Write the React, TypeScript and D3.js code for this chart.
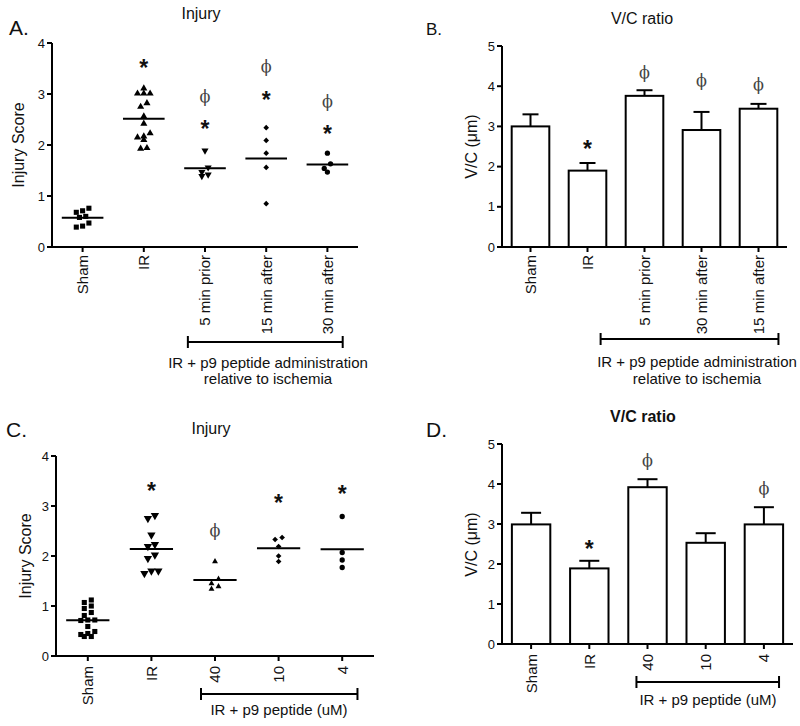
import React from "react";
import * as d3 from "d3";

const SANS = "'Liberation Sans', Arial, Helvetica, sans-serif";
const SERIF = "'DejaVu Serif', 'Liberation Serif', 'Times New Roman', serif";

// ---------- Panel A : Injury (scatter) ----------
const catsA = ["Sham", "IR", "5 min prior", "15 min after", "30 min after"];
const injA_sham = [0.76, 0.71, 0.68, 0.6, 0.58, 0.47, 0.41, 0.39];
const injA_ir = [3.11, 3.01, 3.01, 3.01, 2.82, 2.75, 2.56, 2.42, 2.23, 2.17, 2.15, 2.1, 1.94, 1.93];
const injA_5prior = [1.89, 1.56, 1.47, 1.42, 1.39];
const injA_15after = [2.34, 2.09, 1.84, 1.56, 0.85];
const injA_30after = [1.84, 1.63, 1.54, 1.47];
const starsA = [null, 3.63, 2.42, 3.0, 2.33];
const phisA = [null, null, 2.96, 3.54, 2.86];
const shapesA = ["square", "triangle", "triangleDown", "diamond", "circle"];

// ---------- Panel B : V/C ratio (bars) ----------
const catsB = ["Sham", "IR", "5 min prior", "30 min after", "15 min after"];
const vcB_mean = [3.0, 1.9, 3.76, 2.91, 3.44];
const vcB_sem = [0.3, 0.19, 0.14, 0.45, 0.12];
const starsB = [null, 2.59, null, null, null];
const phisB = [null, null, 4.35, 4.13, 4.05];

// ---------- Panel C : Injury (scatter, dose) ----------
const catsC = ["Sham", "IR", "40", "10", "4"];
const injC_sham = [1.12, 1.07, 1.0, 0.95, 0.87, 0.81, 0.72, 0.72, 0.71, 0.59, 0.49, 0.45, 0.43, 0.39, 0.39];
const injC_ir = [2.81, 2.75, 2.42, 2.23, 2.19, 2.02, 1.95, 1.7, 1.65, 1.7];
const injC_40 = [1.89, 1.54, 1.45, 1.39, 1.34];
const injC_10 = [2.37, 2.33, 2.19, 2.0, 1.89];
const injC_4 = [2.79, 2.07, 1.92, 1.77];
const starsC = [null, 3.42, null, 3.17, 3.36];
const phisC = [null, null, 2.52, null, null];
const shapesC = ["square", "triangleDown", "triangle", "diamond", "circle"];

// ---------- Panel D : V/C ratio (bars, dose) ----------
const catsD = ["Sham", "IR", "40", "10", "4"];
const vcD_mean = [2.99, 1.89, 3.92, 2.53, 2.99];
const vcD_sem = [0.29, 0.19, 0.2, 0.24, 0.43];
const starsD = [null, 2.53, null, null, null];
const phisD = [null, null, 4.58, null, 3.88];

const ticksInjury = [0, 1, 2, 3, 4];
const ticksVC = [0, 1, 2, 3, 4, 5];

// ---------- helpers ----------
function markerPath(shape: string, size: number) {
  const type =
    shape === "square" || shape === "diamond"
      ? d3.symbolSquare
      : shape === "circle"
      ? d3.symbolCircle
      : d3.symbolTriangle;
  return d3.symbol(type, size)() as string;
}
function markerRotate(shape: string) {
  if (shape === "triangleDown") return 180;
  if (shape === "diamond") return 45;
  return 0;
}

// GraphPad-like column scatter: points within a few px of each other share a row
function swarm(values: number[], y: (v: number) => number, spacing: number, thresh: number) {
  const sorted = [...values].sort((a, b) => b - a);
  const rows: number[][] = [];
  for (const v of sorted) {
    const last = rows[rows.length - 1];
    if (last && Math.abs(y(last[0]) - y(v)) < thresh) last.push(v);
    else rows.push([v]);
  }
  const out: { v: number; dx: number }[] = [];
  rows.forEach((row) => {
    const r = [...row].sort((a, b) => a - b);
    r.forEach((v, i) => out.push({ v, dx: (i - (r.length - 1) / 2) * spacing }));
  });
  return out;
}

function Star({ x, y }: { x: number; y: number }) {
  const fs = 23;
  return (
    <text x={x} y={y + 0.6 * fs} fontFamily={SANS} fontSize={fs} fontWeight="bold" textAnchor="middle" fill="#111">
      *
    </text>
  );
}
function Phi({ x, y }: { x: number; y: number }) {
  return (
    <text x={x} y={y} fontFamily={SERIF} fontSize={16} textAnchor="middle" dominantBaseline="central" fill="#444">
      ϕ
    </text>
  );
}

type Layout = {
  x0: number; x1: number; yBase: number; yTop: number; yMax: number;
  ticks: number[];
  title: string; titleX: number; titleY: number; titleBold?: boolean;
  letter: string; letterX: number; letterY: number; letterSize: number;
  yLabel: string; yLabelX: number; yLabelY: number;
  labelGap: number;
  bracket: { from: number; to: number; padL: number; padR: number; y: number; textX: number; lines: string[]; lineY: number[] };
};

function Frame({ L, centers, cats }: { L: Layout; centers: number[]; cats: string[] }) {
  const y = d3.scaleLinear().domain([0, L.yMax]).range([L.yBase, L.yTop]);
  const step = (L.x1 - L.x0) / cats.length;
  const bx0 = centers[L.bracket.from] + L.bracket.padL * step;
  const bx1 = centers[L.bracket.to] + L.bracket.padR * step;
  return (
    <g>
      <text x={L.letterX} y={L.letterY} fontFamily={SANS} fontSize={L.letterSize} fill="#111">{L.letter}</text>
      <text x={L.titleX} y={L.titleY} fontFamily={SANS} fontSize={16} fontWeight={L.titleBold ? "bold" : "normal"} textAnchor="middle" fill="#111">{L.title}</text>
      <text transform={`translate(${L.yLabelX},${L.yLabelY}) rotate(-90)`} fontFamily={SANS} fontSize={16} textAnchor="middle" fill="#111">{L.yLabel}</text>
      {/* axes */}
      <line x1={L.x0} x2={L.x0} y1={L.yBase} y2={y(L.yMax)} stroke="#000" strokeWidth={2} />
      <line x1={L.x0} x2={L.x1} y1={L.yBase} y2={L.yBase} stroke="#000" strokeWidth={2} />
      {L.ticks.map((t) => (
        <g key={t}>
          <line x1={L.x0 - 5} x2={L.x0} y1={y(t)} y2={y(t)} stroke="#000" strokeWidth={2} />
          <text x={L.x0 - 7} y={y(t)} dy="0.36em" fontFamily={SANS} fontSize={13} textAnchor="end" fill="#111">{t}</text>
        </g>
      ))}
      {cats.map((c, i) => (
        <g key={c}>
          <line x1={centers[i]} x2={centers[i]} y1={L.yBase} y2={L.yBase + 5} stroke="#000" strokeWidth={2} />
          <text transform={`translate(${centers[i]},${L.yBase + L.labelGap}) rotate(-90)`} dy="0.36em" fontFamily={SANS} fontSize={15} textAnchor="end" fill="#111">{c}</text>
        </g>
      ))}
      {/* bracket */}
      <line x1={bx0} x2={bx1} y1={L.bracket.y} y2={L.bracket.y} stroke="#000" strokeWidth={2} />
      <line x1={bx0} x2={bx0} y1={L.bracket.y - 6} y2={L.bracket.y + 6} stroke="#000" strokeWidth={2} />
      <line x1={bx1} x2={bx1} y1={L.bracket.y - 6} y2={L.bracket.y + 6} stroke="#000" strokeWidth={2} />
      {L.bracket.lines.map((s, i) => (
        <text key={s} x={L.bracket.textX} y={L.bracket.lineY[i]} fontFamily={SANS} fontSize={15} textAnchor="middle" fill="#111">{s}</text>
      ))}
    </g>
  );
}

function ScatterPanel({ L, cats, groups, shapes, sizes, stars, phis, spacing }: {
  L: Layout; cats: string[]; groups: number[][]; shapes: string[]; sizes: number[];
  stars: (number | null)[]; phis: (number | null)[]; spacing: number;
}) {
  const x = d3.scaleBand<string>().domain(cats).range([L.x0, L.x1]);
  const y = d3.scaleLinear().domain([0, L.yMax]).range([L.yBase, L.yTop]);
  const centers = cats.map((c) => (x(c) as number) + x.bandwidth() / 2);
  const half = x.step() * 0.34;
  return (
    <g>
      <Frame L={L} centers={centers} cats={cats} />
      {groups.map((vals, gi) => {
        const cx = centers[gi];
        const pts = swarm(vals, y, spacing, 5);
        const m = d3.mean(vals) as number;
        const path = markerPath(shapes[gi], sizes[gi]);
        const rot = markerRotate(shapes[gi]);
        return (
          <g key={gi}>
            {pts.map((p, k) => (
              <path key={k} d={path} transform={`translate(${cx + p.dx},${y(p.v)}) rotate(${rot})`} fill="#000" />
            ))}
            <line x1={cx - half} x2={cx + half} y1={y(m)} y2={y(m)} stroke="#000" strokeWidth={2} />
          </g>
        );
      })}
      {stars.map((s, i) => (s == null ? null : <Star key={"s" + i} x={centers[i]} y={y(s)} />))}
      {phis.map((s, i) => (s == null ? null : <Phi key={"p" + i} x={centers[i]} y={y(s)} />))}
    </g>
  );
}

function BarPanel({ L, cats, means, sems, stars, phis, cap }: {
  L: Layout; cats: string[]; means: number[]; sems: number[];
  stars: (number | null)[]; phis: (number | null)[]; cap: number;
}) {
  const x = d3.scaleBand<string>().domain(cats).range([L.x0, L.x1]).paddingInner(0.34).paddingOuter(0.17);
  const y = d3.scaleLinear().domain([0, L.yMax]).range([L.yBase, L.yTop]);
  const centers = cats.map((c) => (x(c) as number) + x.bandwidth() / 2);
  return (
    <g>
      {cats.map((c, i) => {
        const top = y(means[i]);
        const et = y(means[i] + sems[i]);
        return (
          <g key={c}>
            <line x1={centers[i]} x2={centers[i]} y1={top} y2={et} stroke="#000" strokeWidth={2} />
            <line x1={centers[i] - cap / 2} x2={centers[i] + cap / 2} y1={et} y2={et} stroke="#000" strokeWidth={2} />
            <rect x={x(c) as number} y={top} width={x.bandwidth()} height={L.yBase - top} fill="#fff" stroke="#000" strokeWidth={2} />
          </g>
        );
      })}
      <Frame L={L} centers={centers} cats={cats} />
      {stars.map((s, i) => (s == null ? null : <Star key={"s" + i} x={centers[i]} y={y(s)} />))}
      {phis.map((s, i) => (s == null ? null : <Phi key={"p" + i} x={centers[i]} y={y(s)} />))}
    </g>
  );
}

const layoutA: Layout = {
  x0: 52, x1: 358, yBase: 247, yTop: 43, yMax: 4, ticks: ticksInjury,
  title: "Injury", titleX: 201, titleY: 18.5,
  letter: "A.", letterX: 9, letterY: 35, letterSize: 21,
  yLabel: "Injury Score", yLabelX: 24, yLabelY: 145, labelGap: 8,
  bracket: { from: 2, to: 4, padL: -0.28, padR: 0.25, y: 342, textX: 268,
    lines: ["IR + p9 peptide administration", "relative to ischemia"], lineY: [368, 384] },
};
const layoutB: Layout = {
  x0: 502, x1: 787, yBase: 247, yTop: 46, yMax: 5, ticks: ticksVC,
  title: "V/C ratio", titleX: 642, titleY: 23.5,
  letter: "B.", letterX: 426, letterY: 35, letterSize: 17,
  yLabel: "V/C (μm)", yLabelX: 477, yLabelY: 146.5, labelGap: 8,
  bracket: { from: 2, to: 4, padL: -0.77, padR: 0.35, y: 339, textX: 697,
    lines: ["IR + p9 peptide administration", "relative to ischemia"], lineY: [367, 384] },
};
const layoutC: Layout = {
  x0: 56, x1: 374, yBase: 656, yTop: 456, yMax: 4, ticks: ticksInjury,
  title: "Injury", titleX: 211, titleY: 433.5,
  letter: "C.", letterX: 6, letterY: 437, letterSize: 21,
  yLabel: "Injury Score", yLabelX: 31, yLabelY: 556, labelGap: 10,
  bracket: { from: 2, to: 4, padL: -0.22, padR: 0.24, y: 694, textX: 279,
    lines: ["IR + p9 peptide (uM)"], lineY: [715] },
};
const layoutD: Layout = {
  x0: 502, x1: 793, yBase: 644, yTop: 444, yMax: 5, ticks: ticksVC,
  title: "V/C ratio", titleX: 643, titleY: 422, titleBold: true,
  letter: "D.", letterX: 426, letterY: 437, letterSize: 21,
  yLabel: "V/C (μm)", yLabelX: 477, yLabelY: 544.5, labelGap: 10,
  bracket: { from: 2, to: 4, padL: -0.19, padR: 0.26, y: 682, textX: 708,
    lines: ["IR + p9 peptide (uM)"], lineY: [705] },
};

export default function App() {
  return (
    <svg width={800} height={726} viewBox="0 0 800 726"
      style={{ position: "absolute", left: 0, top: 0, background: "#fff", display: "block" }}>
      <rect width={800} height={726} fill="#fff" />
      <ScatterPanel L={layoutA} cats={catsA}
        groups={[injA_sham, injA_ir, injA_5prior, injA_15after, injA_30after]}
        shapes={shapesA} sizes={[26, 22, 22, 16, 22]} stars={starsA} phis={phisA} spacing={6.3} />
      <BarPanel L={layoutB} cats={catsB} means={vcB_mean} sems={vcB_sem} stars={starsB} phis={phisB} cap={16} />
      <ScatterPanel L={layoutC} cats={catsC}
        groups={[injC_sham, injC_ir, injC_40, injC_10, injC_4]}
        shapes={shapesC} sizes={[26, 30, 15, 16, 22]} stars={starsC} phis={phisC} spacing={7} />
      <BarPanel L={layoutD} cats={catsD} means={vcD_mean} sems={vcD_sem} stars={starsD} phis={phisD} cap={20} />
    </svg>
  );
}
